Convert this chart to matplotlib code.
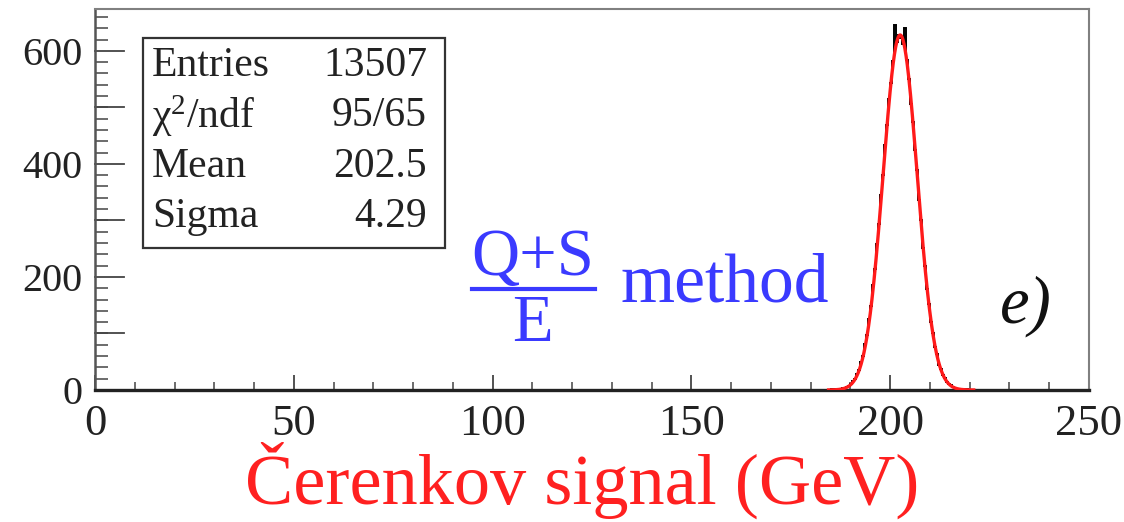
import numpy as np
import matplotlib
matplotlib.use("Agg")
import matplotlib.pyplot as plt
from matplotlib.patches import Rectangle
from matplotlib.lines import Line2D
from matplotlib.ticker import MultipleLocator

# ---- data -------------------------------------------------------------
bin_low = 184.0
bin_width = 0.5
counts = [
    0, 0, 1, 0, 1, 1, 2, 1, 3, 4,
    6, 7, 11, 16, 19, 29, 35, 49, 60, 81,
    97, 126, 148, 186, 214, 259, 293, 345, 380, 433,
    468, 515, 543, 582, 645, 615, 628, 622, 612, 641,
    583, 551, 506, 474, 425, 389, 336, 301, 252, 220,
    179, 153, 120, 101, 76, 63, 45, 38, 26, 21,
    14, 11, 8, 5, 4, 2, 2, 1, 1, 0,
    1, 0,
]
stat_labels = ["Entries", "χ$^{2}$/ndf", "Mean", "Sigma"]
stat_values = ["13507", "95/65", "202.5", "4.29"]
entries = 13507
fit_mean = 202.5
fit_sigma = 4.29
x_ticks = [0, 50, 100, 150, 200, 250]
y_ticks = [0, 200, 400, 600]
y_mid_ticks = [100, 300, 500]

# ---- figure -----------------------------------------------------------
W, H = 1124, 522
plt.rcParams["font.family"] = ["Liberation Serif", "DejaVu Serif"]
plt.rcParams["mathtext.fontset"] = "custom"
plt.rcParams["mathtext.rm"] = "Liberation Serif"
plt.rcParams["mathtext.it"] = "Liberation Serif:italic"

fig = plt.figure(figsize=(W / 100, H / 100), dpi=100)
fig.patch.set_facecolor("white")


def fx(px):
    return px / W


def fy(py):
    return 1 - py / H


ax = fig.add_axes([fx(95), fy(390), fx(1089) - fx(95), fy(9) - fy(390)])

edges = bin_low + bin_width * np.arange(len(counts) + 1)
ax.stairs(counts, edges, color="black", lw=1.4, zorder=2)

# Gaussian fit drawn from the quoted fit parameters
amp = entries * bin_width / (fit_sigma * np.sqrt(2 * np.pi))
xf = np.linspace(184.5, 221.0, 600)
yf = amp * np.exp(-0.5 * ((xf - fit_mean) / fit_sigma) ** 2)
ax.plot(xf, yf, color="#ff1a1a", lw=2.4, zorder=3)

ax.set_xlim(0, 250)
ax.set_ylim(0, 674)
ax.set_xticks(x_ticks)
ax.set_yticks(y_ticks)
ax.xaxis.set_minor_locator(MultipleLocator(10))
ax.yaxis.set_minor_locator(MultipleLocator(20))
ax.tick_params(axis="both", which="both", direction="in", top=False, right=False,
               color="#444444")
ax.tick_params(axis="x", which="major", length=11, width=1.3, labelsize=32, pad=10)
ax.tick_params(axis="x", which="minor", length=5.5, width=1.1)
ax.tick_params(axis="y", which="major", length=0, labelsize=29, pad=9)
ax.tick_params(axis="y", which="minor", length=9.5, width=1.1)
# long ticks on y every 100 units
for yv in y_ticks + y_mid_ticks:
    ax.plot([0, 7.3], [yv, yv], color="#444444", lw=1.3, clip_on=False, zorder=1)
ax.set_yticklabels([str(v) for v in y_ticks])
ax.set_xticklabels([str(v) for v in x_ticks])
for lab in ax.get_xticklabels() + ax.get_yticklabels():
    lab.set_color("#222222")

ax.spines["bottom"].set_linewidth(2.4)
ax.spines["bottom"].set_color("#222222")
ax.spines["left"].set_linewidth(1.8)
ax.spines["left"].set_color("#555555")
for s in ("top", "right"):
    ax.spines[s].set_linewidth(1.5)
    ax.spines[s].set_color("#808080")

# ---- statistics box ---------------------------------------------------
fig.patches.append(Rectangle((fx(143), fy(248)), fx(445) - fx(143), fy(38) - fy(248),
                             transform=fig.transFigure, fill=True, facecolor="white",
                             edgecolor="#333333", lw=1.6, zorder=5))
row_y = [66, 116, 167, 217]
for lab, val, ry in zip(stat_labels, stat_values, row_y):
    fig.text(fx(152), fy(ry), lab, fontsize=30, ha="left", va="center",
             color="#222222", zorder=6)
    fig.text(fx(427), fy(ry), val, fontsize=30, ha="right", va="center",
             color="#222222", zorder=6)

# ---- method annotation ------------------------------------------------
blue = "#3a3aff"
fig.text(fx(533), fy(275), "Q+S", fontsize=48, ha="center", va="baseline", color=blue)
fig.lines.append(Line2D([fx(472), fx(595)], [fy(289), fy(289)], transform=fig.transFigure,
                        color=blue, lw=3))
fig.text(fx(533), fy(341), "E", fontsize=48, ha="center", va="baseline", color=blue)
fig.text(fx(620), fy(302), "method", fontsize=50, ha="left", va="baseline", color=blue)

fig.text(fx(1000), fy(323), "e)", fontsize=48, style="italic", ha="left",
         va="baseline", color="#111111")

# ---- axis title -------------------------------------------------------
fig.text(fx(582), fy(480), "Čerenkov signal (GeV)", fontsize=52, ha="center",
         va="center", color="#ff2020")

fig.savefig("out.png", dpi=100, facecolor="white")
